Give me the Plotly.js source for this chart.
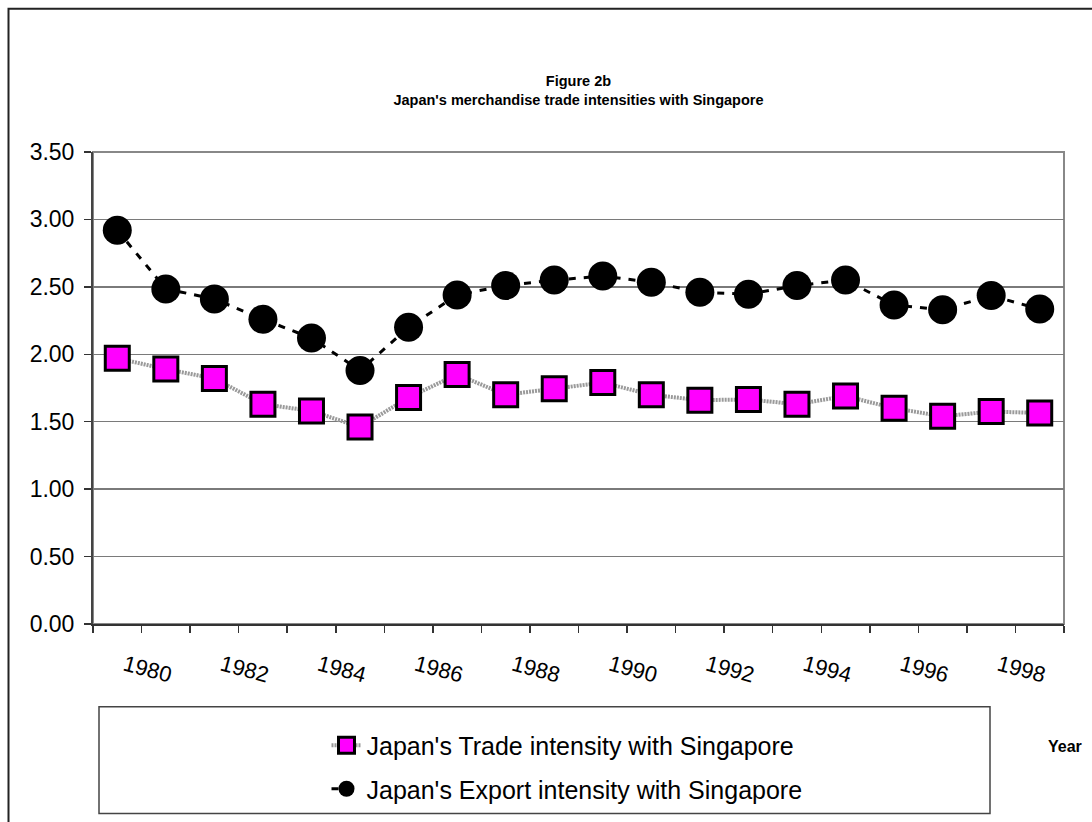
<!DOCTYPE html>
<html>
<head>
<meta charset="utf-8">
<script src="https://cdn.plot.ly/plotly-3.0.1.min.js"></script>
<style>html,body{margin:0;padding:0;background:#fff;}#chart{width:1092px;height:822px;}</style>
</head>
<body>
<div id="chart"></div>
<script>
// ---- data ----
const years = ["1979","1980","1981","1982","1983","1984","1985","1986","1987","1988",
               "1989","1990","1991","1992","1993","1994","1995","1996","1997","1998"];
const tradeIntensity = [1.97,1.89,1.82,1.63,1.58,1.46,1.68,1.85,1.70,1.745,
                        1.79,1.70,1.66,1.665,1.63,1.69,1.60,1.54,1.575,1.565];
const exportIntensity = [2.92,2.485,2.41,2.26,2.12,1.88,2.20,2.44,2.51,2.55,
                         2.58,2.535,2.46,2.445,2.51,2.55,2.365,2.33,2.435,2.335];
const tickLabels = years.map(y => (parseInt(y) % 2 === 0 ? y : ""));
const seriesNames = ["Japan's Trade intensity with Singapore", "Japan's Export intensity with Singapore"];

// ---- layout geometry ----
const W = 1092, H = 822;
const M = {l: 93, r: 28, t: 152, b: 197};
const PW = W - M.l - M.r, PH = H - M.t - M.b;
const px = x => (x - M.l) / PW;
const py = y => (H - M.b - y) / PH;
const font = "Liberation Sans, Arial, sans-serif";

const traces = [
  {
    x: years, y: tradeIntensity, name: seriesNames[0], type: "scatter", mode: "lines+markers",
    legendgroup: "a",
    line: {color: "#9a9a9a", width: 4, dash: "2px,1px"},
    marker: {symbol: "square", size: 24, color: "#FF00FF", line: {color: "#000", width: 3}}
  },
  {
    x: years, y: exportIntensity, name: seriesNames[1], type: "scatter", mode: "lines+markers",
    legendgroup: "b",
    line: {color: "#000", width: 3, dash: "7px,8px"},
    marker: {symbol: "circle", size: 29, color: "#000", line: {color: "#000", width: 0}}
  }
];

const layout = {
  width: W, height: H,
  margin: M,
  paper_bgcolor: "#fff", plot_bgcolor: "#fff",
  font: {family: font, color: "#000"},
  title: {
    text: "<b>Figure 2b</b><br><b>Japan's merchandise trade intensities with Singapore</b>",
    font: {family: font, size: 14.5, color: "#000"},
    x: px(578.5), xref: "paper", xanchor: "center",
    y: 1 - 86 / H, yref: "container", yanchor: "top"
  },
  xaxis: {
    type: "category",
    tickmode: "array", tickvals: years, ticktext: tickLabels,
    tickson: "boundaries",
    ticks: "outside", ticklen: 7, tickcolor: "#333", tickwidth: 1.5,
    tickangle: 15,
    ticklabelshift: -41, ticklabelstandoff: 18,
    tickfont: {family: font, size: 22, color: "#000"},
    showgrid: false, zeroline: false,
    showline: true, linecolor: "#333", linewidth: 2,
    range: [-0.5, years.length - 0.5],
    fixedrange: true
  },
  yaxis: {
    range: [0, 3.5], dtick: 0.5, tick0: 0, tickformat: ".2f",
    ticks: "outside", ticklen: 7, tickcolor: "#333", tickwidth: 1.5,
    ticklabelstandoff: 5,
    tickfont: {family: font, size: 23, color: "#000"},
    showgrid: true, gridcolor: "#7a7a7a", gridwidth: 1.5,
    zeroline: false,
    showline: true, linecolor: "#444", linewidth: 2,
    fixedrange: true
  },
  showlegend: true,
  legend: {
    x: px(567), xanchor: "center", y: py(767), yanchor: "middle",
    xref: "paper", yref: "paper",
    orientation: "v", traceorder: "grouped", tracegroupgap: 8,
    font: {family: font, size: 25, color: "#000"},
    bgcolor: "rgba(0,0,0,0)", borderwidth: 0
  },
  shapes: [
    // plot area border (top/right)
    {type: "rect", xref: "paper", yref: "paper", x0: 0, x1: 1, y0: 0, y1: 1,
     line: {color: "#888", width: 2}, layer: "below"},
    // legend box
    {type: "rect", xref: "paper", yref: "paper", x0: px(99), x1: px(990), y0: py(708), y1: py(815),
     line: {color: "#444", width: 1.5}},
    // outer chart frame
    {type: "rect", xref: "paper", yref: "paper", x0: px(8.5), x1: px(1100), y0: py(8.5), y1: py(840),
     line: {color: "#222", width: 2}}
  ],
  annotations: [
    {text: "<b>Year</b>", xref: "paper", yref: "paper", x: px(1084), y: py(748),
     xanchor: "right", yanchor: "middle", showarrow: false,
     font: {family: font, size: 16, color: "#000"}}
  ]
};

Plotly.newPlot("chart", traces, layout, {displayModeBar: false, staticPlot: true});
</script>
</body>
</html>
